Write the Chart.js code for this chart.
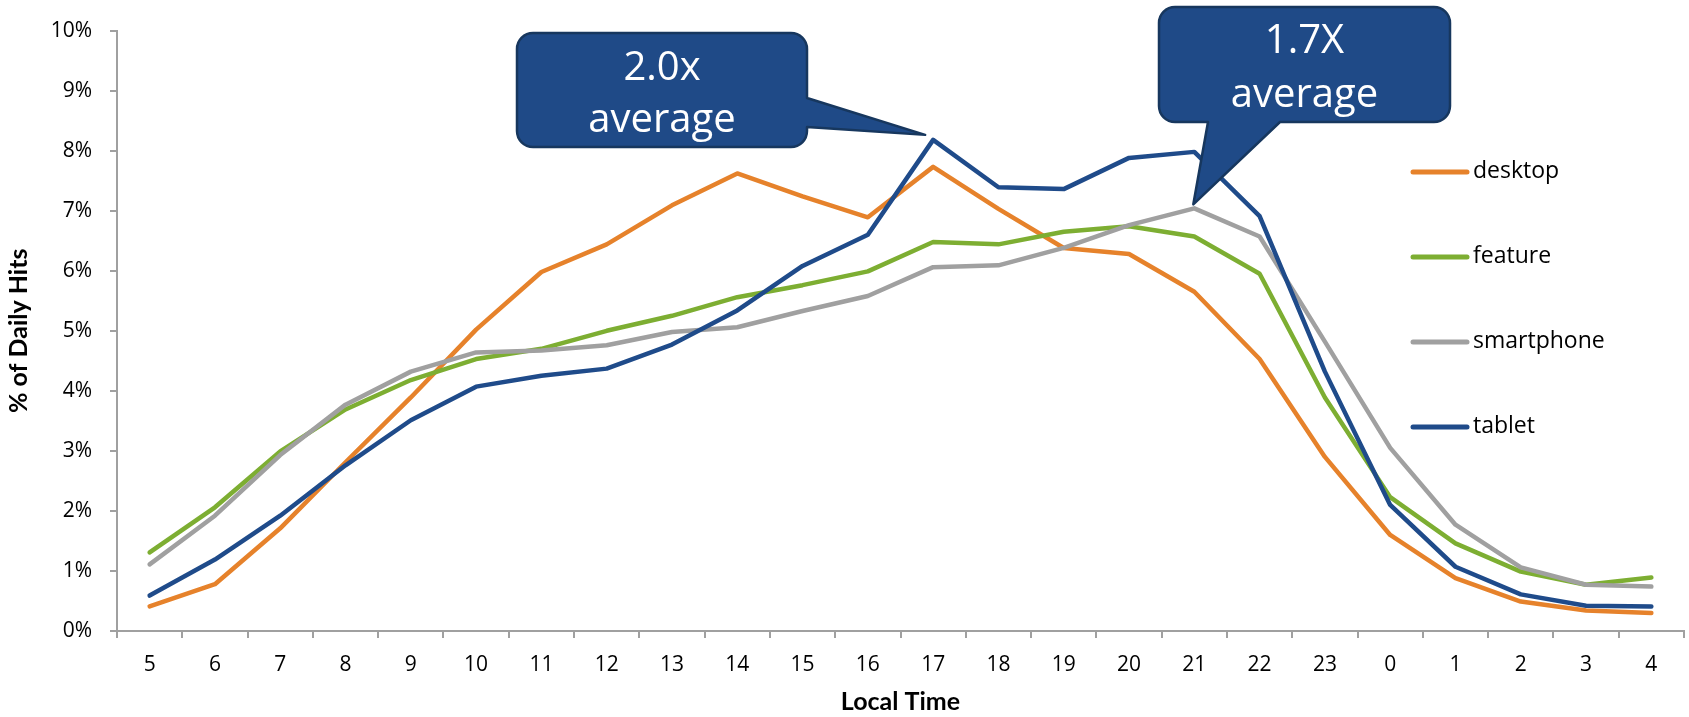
<!DOCTYPE html>
<html>
<head>
<meta charset="utf-8">
<script src="https://cdn.jsdelivr.net/npm/chart.js@4/dist/chart.umd.min.js"></script>
<style>
  html, body { margin: 0; padding: 0; background: #fff; }
  #wrap { width: 1689px; height: 717px; position: relative; }
</style>
</head>
<body>
<div id="wrap"><canvas id="grafica"></canvas></div>
<script>
// datos (% de hits diarios por hora local)
const horas = ['5','6','7','8','9','10','11','12','13','14','15','16','17','18','19','20','21','22','23','0','1','2','3','4'];
const desktop    = [0.41,0.78,1.71,2.81,3.89,5.02,5.98,6.44,7.09,7.62,7.24,6.89,7.73,7.03,6.38,6.28,5.65,4.53,2.90,1.60,0.88,0.49,0.34,0.30];
const feature    = [1.31,2.06,2.99,3.69,4.18,4.53,4.70,5.00,5.25,5.56,5.76,5.99,6.48,6.44,6.65,6.74,6.57,5.95,3.89,2.23,1.46,0.99,0.77,0.89];
const smartphone = [1.11,1.92,2.93,3.77,4.32,4.64,4.67,4.76,4.98,5.06,5.33,5.58,6.06,6.09,6.38,6.76,7.04,6.57,4.82,3.05,1.77,1.06,0.77,0.74];
const tablet     = [0.59,1.19,1.92,2.76,3.51,4.07,4.25,4.37,4.77,5.34,6.08,6.60,8.18,7.39,7.36,7.88,7.98,6.91,4.32,2.10,1.07,0.61,0.42,0.41];
const yTicks = [0,1,2,3,4,5,6,7,8,9,10];

const colores = { desktop: '#E6822B', feature: '#7DAE32', smartphone: '#A0A0A0', tablet: '#1F4B8A' };
const gris = '#A0A0A0';

function serie(label, data, color, orden) {
    return {
        label: label, data: data, borderColor: color, backgroundColor: color,
        borderWidth: 4.5, pointRadius: 0, tension: 0,
        borderCapStyle: 'round', borderJoinStyle: 'round', order: orden
    };
}

// leyenda propia, dentro del área del gráfico
const leyenda = {
    id: 'leyenda',
    afterDraw(chart) {
        const ctx = chart.ctx;
        const filas = [172, 257, 342, 427];
        ctx.save();
        ctx.font = '23px "Open Sans"';
        ctx.textBaseline = 'middle';
        ctx.textAlign = 'left';
        chart.data.datasets.forEach((ds, i) => {
            const y = filas[i];
            ctx.strokeStyle = ds.borderColor;
            ctx.lineWidth = 5;
            ctx.lineCap = 'round';
            ctx.beginPath();
            ctx.moveTo(1413, y);
            ctx.lineTo(1467, y);
            ctx.stroke();
            ctx.fillStyle = '#000';
            ctx.fillText(ds.label, 1473, y - 1);
        });
        ctx.restore();
    }
};

// globos de texto "x average"
function globo(ctx, b, tail, lineas) {
    const r = 16;
    ctx.beginPath();
    ctx.moveTo(b.x0 + r, b.y0);
    ctx.lineTo(b.x1 - r, b.y0);
    ctx.arcTo(b.x1, b.y0, b.x1, b.y0 + r, r);
    if (tail.lado === 'right') {
        ctx.lineTo(b.x1, tail.a);
        ctx.lineTo(tail.tx, tail.ty);
        ctx.lineTo(b.x1, tail.b);
    }
    ctx.lineTo(b.x1, b.y1 - r);
    ctx.arcTo(b.x1, b.y1, b.x1 - r, b.y1, r);
    if (tail.lado === 'bottom') {
        ctx.lineTo(tail.b, b.y1);
        ctx.lineTo(tail.tx, tail.ty);
        ctx.lineTo(tail.a, b.y1);
    }
    ctx.lineTo(b.x0 + r, b.y1);
    ctx.arcTo(b.x0, b.y1, b.x0, b.y1 - r, r);
    ctx.lineTo(b.x0, b.y0 + r);
    ctx.arcTo(b.x0, b.y0, b.x0 + r, b.y0, r);
    ctx.closePath();
    ctx.fillStyle = '#1F4A87';
    ctx.fill();
    ctx.strokeStyle = '#17375E';
    ctx.lineWidth = 2.5;
    ctx.lineJoin = 'round';
    ctx.stroke();

    ctx.fillStyle = '#fff';
    ctx.textAlign = 'center';
    ctx.textBaseline = 'alphabetic';
    ctx.font = '40px "Open Sans"';
    const cx = (b.x0 + b.x1) / 2;
    lineas.forEach(l => ctx.fillText(l.t, cx, l.y));
}

const globos = {
    id: 'globos',
    afterDatasetsDraw(chart) {
        const ctx = chart.ctx;
        const pTab = chart.getDatasetMeta(3).data[12];
        const pSmart = chart.getDatasetMeta(2).data[16];
        ctx.save();
        globo(ctx, { x0: 517, y0: 33, x1: 807, y1: 147 },
              { lado: 'right', a: 98, b: 127, tx: pTab.x - 8, ty: pTab.y - 5 },
              [{ t: '2.0x', y: 80 }, { t: 'average', y: 132 }]);
        globo(ctx, { x0: 1159, y0: 7, x1: 1450, y1: 122 },
              { lado: 'bottom', a: 1208, b: 1280, tx: pSmart.x - 1, ty: pSmart.y - 4 },
              [{ t: '1.7X', y: 53 }, { t: 'average', y: 107 }]);
        ctx.restore();
    }
};

const ctx = document.getElementById('grafica').getContext('2d');
new Chart(ctx, {
    type: 'line',
    data: {
        labels: horas,
        datasets: [
            serie('desktop', desktop, colores.desktop, 4),
            serie('feature', feature, colores.feature, 3),
            serie('smartphone', smartphone, colores.smartphone, 2),
            serie('tablet', tablet, colores.tablet, 1)
        ]
    },
    options: {
        responsive: true,
        maintainAspectRatio: false,
        animation: false,
        layout: { padding: { left: 0, top: 25, right: 5, bottom: 0 } },
        plugins: {
            legend: { display: false },
            tooltip: { enabled: false }
        },
        scales: {
            x: {
                offset: true,
                grid: { offset: true, drawOnChartArea: false, tickLength: 7, color: gris, lineWidth: 2 },
                border: { color: gris, width: 2 },
                ticks: { color: '#000', font: { family: 'Open Sans', size: 21 }, padding: 14, maxRotation: 0 },
                title: { display: true, text: 'Local Time', color: '#000', font: { family: 'Lato', size: 25, weight: 'bold' }, padding: 0 },
                afterFit(s) { s.height = 86; }
            },
            y: {
                min: 0, max: 10,
                afterBuildTicks(s) { s.ticks = yTicks.map(v => ({ value: v })); },
                grid: { drawOnChartArea: false, tickLength: 7, color: gris, lineWidth: 2 },
                border: { color: gris, width: 2 },
                ticks: { color: '#000', font: { family: 'Open Sans', size: 21 }, padding: 18, callback: v => v + '%' },
                title: { display: true, text: '% of Daily Hits', color: '#000', font: { family: 'Lato', size: 25, weight: 'bold' }, padding: { top: 4, bottom: 0 } },
                afterFit(s) { s.width = 117; }
            }
        }
    },
    plugins: [globos, leyenda]
});
</script>
</body>
</html>
